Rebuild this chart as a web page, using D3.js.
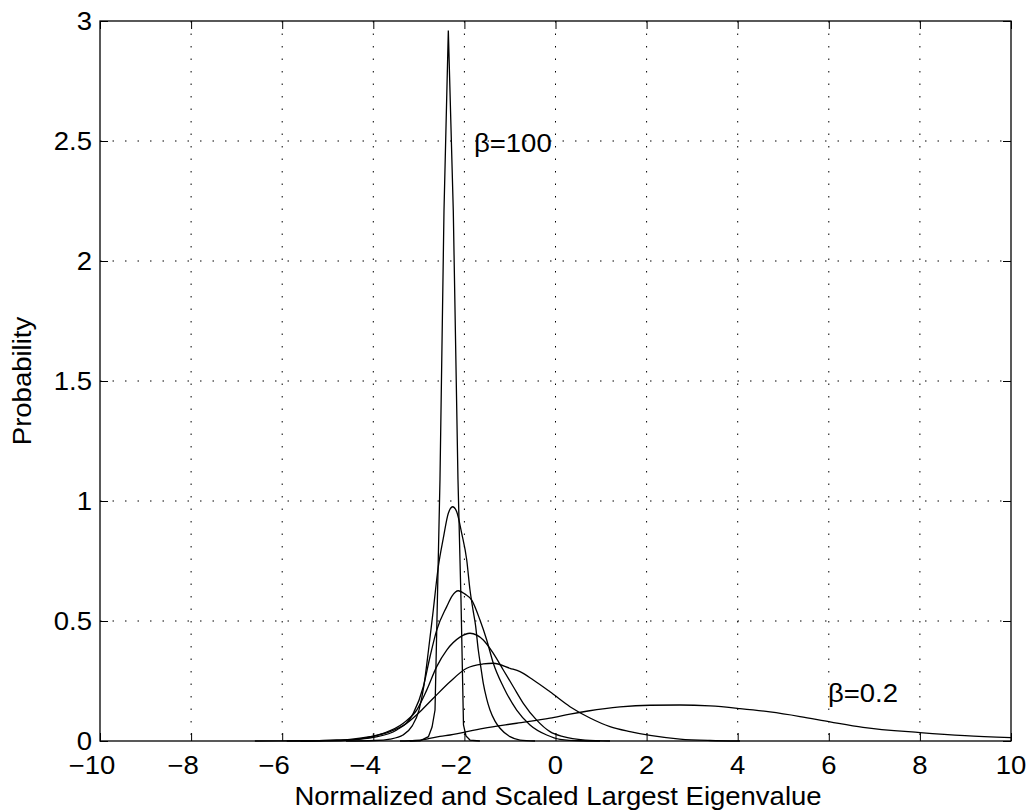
<!DOCTYPE html>
<html>
<head>
<meta charset="utf-8">
<script src="https://cdn.jsdelivr.net/npm/d3@7"></script>
<style>
  body { margin: 0; background: #fff; }
  svg text { font-family: "Liberation Sans", Arial, Helvetica, sans-serif; fill: #000; }
</style>
</head>
<body>
<div id="chart"></div>
<script>
// tick values
const xTicks = [-10, -8, -6, -4, -2, 0, 2, 4, 6, 8, 10];
const yTicks = [0, 0.5, 1, 1.5, 2, 2.5, 3];

// curves, [x, y] pairs
const beta100 = [
  [-3.2, 0], [-2.975, 0.001], [-2.79, 0.018], [-2.71, 0.058], [-2.645, 0.129],
  [-2.536, 1.09], [-2.448, 2.21], [-2.353, 2.96], [-2.244, 2.21], [-2.141, 1.09],
  [-2.075, 0.59], [-2.02, 0.067], [-1.965, 0.021], [-1.877, 0.004], [-1.66, 0]
];
const curve2 = [
  [-4.6, 0], [-3.963, 0.002], [-3.633, 0.008], [-3.348, 0.025], [-3.15, 0.062],
  [-2.997, 0.129], [-2.887, 0.233], [-2.788, 0.379], [-2.683, 0.546], [-2.573, 0.726],
  [-2.463, 0.845], [-2.353, 0.949], [-2.257, 0.976], [-2.169, 0.955], [-2.059, 0.865],
  [-1.949, 0.754], [-1.877, 0.629], [-1.811, 0.546], [-1.756, 0.483], [-1.695, 0.379],
  [-1.636, 0.304], [-1.585, 0.24], [-1.515, 0.179], [-1.438, 0.129], [-1.328, 0.083],
  [-1.218, 0.053], [-0.999, 0.018], [-0.779, 0.004], [-0.45, 0]
];
const curve3 = [
  [-5.6, 0], [-4.951, 0.001], [-4.512, 0.004], [-4.0, 0.015], [-3.486, 0.046],
  [-3.122, 0.115], [-2.902, 0.226], [-2.755, 0.351], [-2.608, 0.462], [-2.388, 0.56],
  [-2.272, 0.604], [-2.134, 0.626], [-1.987, 0.612], [-1.839, 0.587], [-1.658, 0.504],
  [-1.51, 0.421], [-1.365, 0.324], [-1.146, 0.226], [-0.852, 0.129], [-0.56, 0.067],
  [-0.193, 0.025], [0.099, 0.007], [0.538, 0.001], [0.977, 0]
];
const curve4 = [
  [-5.9, 0], [-5.17, 0.001], [-4.731, 0.002], [-4.22, 0.011], [-3.78, 0.032],
  [-3.341, 0.074], [-3.047, 0.129], [-2.828, 0.212], [-2.608, 0.31], [-2.388, 0.379],
  [-2.097, 0.433], [-1.877, 0.449], [-1.585, 0.421], [-1.365, 0.365], [-1.146, 0.296],
  [-0.926, 0.226], [-0.707, 0.157], [-0.413, 0.087], [-0.121, 0.039], [0.171, 0.018],
  [0.648, 0.004], [1.196, 0]
];
const curve5 = [
  [-6.6, 0], [-6.048, 0.0005], [-5.39, 0.001], [-4.951, 0.004], [-4.512, 0.007],
  [-4.072, 0.018], [-3.633, 0.039], [-3.267, 0.074], [-2.975, 0.122], [-2.683, 0.178],
  [-2.316, 0.247], [-1.949, 0.303], [-1.585, 0.321], [-1.365, 0.324], [-0.999, 0.303],
  [-0.779, 0.289], [-0.487, 0.254], [-0.121, 0.205], [0.318, 0.143], [0.757, 0.096],
  [1.196, 0.06], [1.635, 0.039], [2.075, 0.023], [2.733, 0.008], [3.392, 0.002], [4.05, 0]
];
const beta02 = [
  [-3.414, 0], [-3.084, 0.002], [-2.828, 0.008], [-2.536, 0.019], [-2.316, 0.025],
  [-1.585, 0.053], [-0.852, 0.074], [-0.121, 0.095], [0.318, 0.112], [0.714, 0.125],
  [1.416, 0.142], [2.075, 0.149], [2.733, 0.15], [3.392, 0.146], [4.05, 0.135],
  [4.709, 0.121], [5.368, 0.102], [6.026, 0.08], [6.751, 0.057], [8.002, 0.035],
  [8.99, 0.022], [10.0, 0.014]
];

const labels = [
  { text: "\u03B2=100", x: -1.79, y: 2.455 },
  { text: "\u03B2=0.2", x: 5.98, y: 0.161 }
];

const W = 1029, H = 811;
const M = { top: 21, right: 18, bottom: 70, left: 100 };
const innerW = W - M.left - M.right;
const innerH = H - M.top - M.bottom;
const FONT = 25;
const SX = 1.1; // glyphs in the picture are a bit wider than Liberation Sans

const svg = d3.select("#chart").append("svg")
  .attr("width", W)
  .attr("height", H);

const g = svg.append("g").attr("transform", `translate(${M.left},${M.top})`);

const x = d3.scaleLinear().domain([-10, 10]).range([0, innerW]);
const y = d3.scaleLinear().domain([0, 3]).range([innerH, 0]);

// text helper: a slightly stretched label at (px, py)
function addText(parent, px, py, str, anchor, extra = "") {
  const t = parent.append("g")
    .attr("transform", `translate(${px},${py}) ${extra} scale(${SX},1)`)
    .append("text")
    .attr("font-size", FONT)
    .attr("text-anchor", anchor)
    .text(str);
  return t;
}

// dotted grid
g.append("g").selectAll("line")
  .data(xTicks.slice(1, -1))
  .join("line")
  .attr("x1", d => x(d)).attr("x2", d => x(d))
  .attr("y1", 0).attr("y2", innerH)
  .attr("stroke", "#000").attr("stroke-width", 1)
  .attr("stroke-dasharray", "1.5,11");

g.append("g").selectAll("line")
  .data(yTicks.slice(1, -1))
  .join("line")
  .attr("x1", 0).attr("x2", innerW)
  .attr("y1", d => y(d)).attr("y2", d => y(d))
  .attr("stroke", "#000").attr("stroke-width", 1)
  .attr("stroke-dasharray", "1.5,11");

// curves
const smooth = d3.line().x(d => x(d[0])).y(d => y(d[1])).curve(d3.curveMonotoneX);
const sharp = d3.line().x(d => x(d[0])).y(d => y(d[1]));

const curves = [curve2, curve3, curve4, curve5, beta02];
g.append("g").selectAll("path")
  .data(curves)
  .join("path")
  .attr("d", smooth)
  .attr("fill", "none")
  .attr("stroke", "#000")
  .attr("stroke-width", 1.3);

g.append("path")
  .attr("d", sharp(beta100))
  .attr("fill", "none")
  .attr("stroke", "#000")
  .attr("stroke-width", 1.3);

// tick marks, inward on all four sides
const tickLen = 8;
const axes = [
  g.append("g").attr("transform", `translate(0,${innerH})`)
    .call(d3.axisBottom(x).tickValues(xTicks).tickSizeInner(-tickLen).tickSizeOuter(0).tickFormat("")),
  g.append("g")
    .call(d3.axisTop(x).tickValues(xTicks).tickSizeInner(-tickLen).tickSizeOuter(0).tickFormat("")),
  g.append("g")
    .call(d3.axisLeft(y).tickValues(yTicks).tickSizeInner(-tickLen).tickSizeOuter(0).tickFormat("")),
  g.append("g").attr("transform", `translate(${innerW},0)`)
    .call(d3.axisRight(y).tickValues(yTicks).tickSizeInner(-tickLen).tickSizeOuter(0).tickFormat(""))
];
axes.forEach(a => {
  a.select(".domain").remove();
  a.selectAll(".tick line").attr("stroke", "#000").attr("stroke-width", 1);
  a.selectAll(".tick text").remove();
});

// x tick labels: digits centred on the tick, minus sign hanging to the left
const xLab = g.append("g");
xTicks.forEach(d => {
  const t = addText(xLab, x(d), innerH + 33, String(Math.abs(d)), "middle");
  if (d < 0) {
    const w = t.node().getComputedTextLength();
    d3.select(t.node().parentNode).append("text")
      .attr("font-size", FONT)
      .attr("text-anchor", "end")
      .attr("x", -w / 2)
      .text("\u2212");
  }
});

// y tick labels
const yLab = g.append("g");
yTicks.forEach(d => {
  addText(yLab, -8, y(d), String(d), "end").attr("dy", "0.35em");
});

// frame
g.append("rect")
  .attr("x", 0).attr("y", 0)
  .attr("width", innerW).attr("height", innerH)
  .attr("fill", "none")
  .attr("stroke", "#000")
  .attr("stroke-width", 1.3);

// curve labels
labels.forEach(d => addText(g, x(d.x), y(d.y), d.text, "start"));

// axis titles
addText(svg, 558, 805, "Normalized and Scaled Largest Eigenvalue", "middle");
addText(svg, 31, M.top + innerH / 2, "Probability", "middle", "rotate(-90)");
</script>
</body>
</html>
